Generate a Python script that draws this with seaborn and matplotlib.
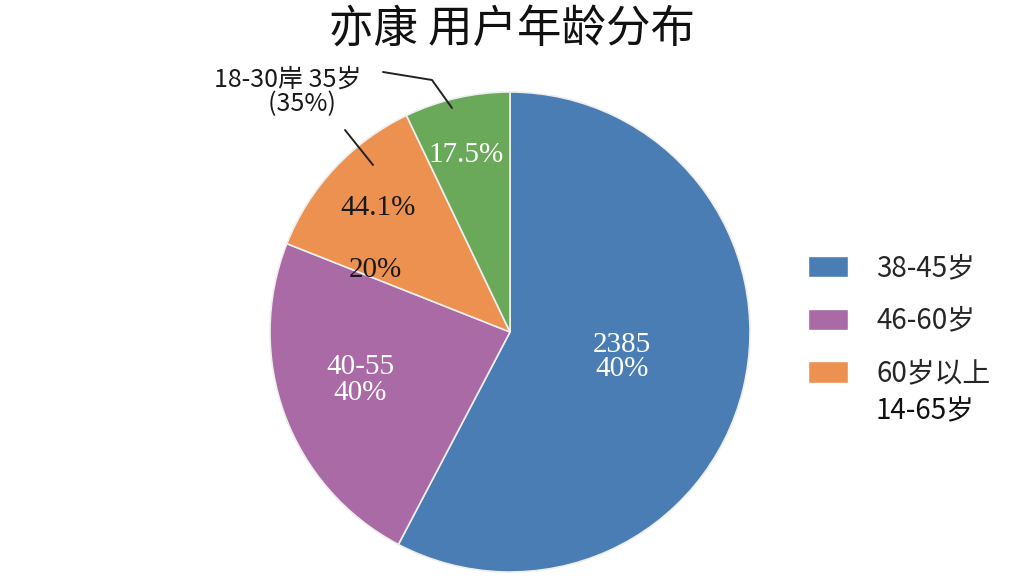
import seaborn as sns
import matplotlib.pyplot as plt
from matplotlib.patches import Patch

sns.set_theme(style="white")
plt.rcParams['font.family'] = ['Noto Sans CJK SC', 'DejaVu Sans']

title = "亦康 用户年龄分布"
groups = ["38-45岁", "46-60岁", "60岁以上", "14-65岁"]
shares = [57.7, 23.3, 11.9, 7.1]
colors = ["#4a7db4", "#a96aa6", "#ec9150", "#6aa85a"]
slice_texts = ["2385\n40%", "40-55\n40%", "44.1%", "17.5%"]
extra_text = "20%"
callout = "18-30岸 35岁\n     (35%)"

fig = plt.figure(figsize=(10.24, 5.76), dpi=100)
fig.patch.set_facecolor("white")

# pie centred near (510, 332) px, radius ~240 px
ax = fig.add_axes([270 / 1024, 4 / 576, 480 / 1024, 480 / 576])
wedges, _ = ax.pie(
    shares,
    colors=colors,
    startangle=90,
    counterclock=False,
    radius=1.0,
    wedgeprops={"edgecolor": "#eeeeee", "linewidth": 1.2},
)
ax.set_xlim(-1, 1)
ax.set_ylim(-1, 1)
ax.set_aspect("equal")


def px(x, y):
    return (x - 510) / 240, (332 - y) / 240


serif = ["Liberation Serif", "Noto Sans CJK SC"]
positions = [px(622, 357), px(360, 380), px(378, 208), px(466, 155)]
text_colors = ["white", "white", "#1a1a1a", "white"]
for t, pos, c in zip(slice_texts, positions, text_colors):
    ax.text(pos[0], pos[1], t, ha="center", va="center", color=c,
            fontsize=21, family=serif, linespacing=0.95)

x20, y20 = px(375, 270)
ax.text(x20, y20, extra_text, ha="center", va="center", color="#1a1a1a",
        fontsize=21, family=serif)

# callout text and leader lines
cx, cy = px(288, 92)
ax.text(cx, cy, callout, ha="center", va="center", color="#1a1a1a",
        fontsize=18, linespacing=0.95, clip_on=False)
l1 = [px(383, 72), px(432, 80), px(452, 108)]
ax.plot([p[0] for p in l1], [p[1] for p in l1], color="#222222", lw=1.4,
        clip_on=False)
l2 = [px(345, 130), px(373, 165)]
ax.plot([p[0] for p in l2], [p[1] for p in l2], color="#222222", lw=1.4,
        clip_on=False)

fig.suptitle(title, y=0.99, fontsize=32, color="#111111", fontweight="medium")

handles = [Patch(facecolor=c) for c in colors[:3]]
fig.legend(
    handles, groups[:3],
    loc="upper left",
    bbox_to_anchor=(783 / 1024, 1 - 228 / 576),
    frameon=False,
    fontsize=20,
    handlelength=1.45,
    handleheight=0.8,
    handletextpad=1.0,
    labelspacing=0.82,
)
fig.text(876 / 1024, 1 - 410 / 576, groups[3], ha="left", va="center",
         fontsize=20, color="#111111")

fig.savefig("out.png", dpi=100, facecolor="white")
